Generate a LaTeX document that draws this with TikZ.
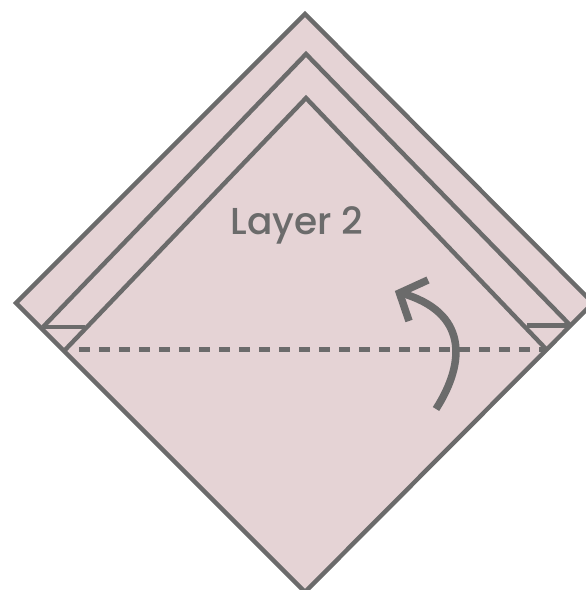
\documentclass[tikz,border=0pt]{standalone}
\usepackage{fontspec}
\setmainfont{Poppins}
\definecolor{paper}{HTML}{E5D3D5}
\definecolor{ink}{HTML}{6B6B6B}
\tikzset{
  fold/.style={draw=ink,line width=4.4pt,line join=miter},
  foldline/.style={draw=ink,line width=5pt,dash pattern=on 11pt off 9pt},
  arrowline/.style={draw=ink,line width=7.5pt}
}
\begin{document}
\begin{tikzpicture}[x=1pt,y=-1pt]
\useasboundingbox (0,0) rectangle (586,590);
\clip (0,0) rectangle (586,590);
\coordinate (outerT) at (305,14);
\coordinate (outerL) at (16,303);
\coordinate (outerB) at (305,592);
\coordinate (outerR) at (593,303);
\coordinate (midL) at (43,327);
\coordinate (midT) at (306,54);
\coordinate (midR) at (570,325);
\coordinate (inL) at (65,350);
\coordinate (inT) at (306,98);
\coordinate (inR) at (546,349);
\coordinate (tabLa) at (43,327);
\coordinate (tabLb) at (85,327);
\coordinate (tabRa) at (527,325.5);
\coordinate (tabRb) at (570,325.5);
\coordinate (dashA) at (79,349);
\coordinate (dashB) at (546,349);
\coordinate (arrS) at (436,409);
\coordinate (arrE) at (401,293);
\coordinate (arrHa) at (428,280);
\coordinate (arrHb) at (409,321);
\filldraw[fill=paper,fold] (outerT) -- (outerR) -- (outerB) -- (outerL) -- cycle;
\draw[fold] (midL) -- (midT) -- (midR);
\draw[fold] (inL) -- (inT) -- (inR);
\draw[fold] (tabLa) -- (tabLb);
\draw[fold] (tabRa) -- (tabRb);
\draw[foldline] (dashA) -- (dashB);
\draw[arrowline] (arrS) .. controls (466,362) and (468,312) .. (arrE);
\draw[arrowline,line join=miter] (arrHa) -- (399.5,293) -- (arrHb);
\node[text=ink,font=\fontsize{37.5}{37.5}\selectfont\fontspec{Poppins Medium},inner sep=0pt] (label) at (297,225) {Layer 2};
\end{tikzpicture}
\end{document}
